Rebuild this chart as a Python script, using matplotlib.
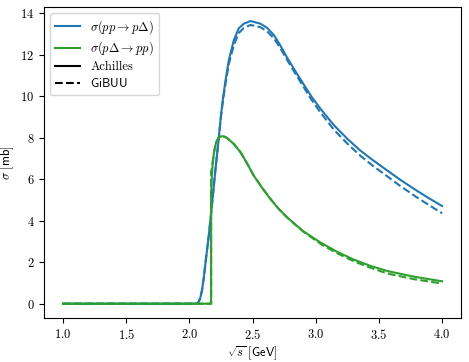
import matplotlib
matplotlib.use("Agg")
import matplotlib.pyplot as plt
from matplotlib.lines import Line2D

plt.rcParams['font.family'] = 'serif'
plt.rcParams['font.serif'] = ['cmr10']
plt.rcParams['mathtext.fontset'] = 'cm'
plt.rcParams['axes.formatter.use_mathtext'] = True
plt.rcParams['axes.unicode_minus'] = False
plt.rcParams['font.size'] = 9

# pp -> p Delta  (Achilles, solid)
s_pd = [1.0, 2.0, 2.055, 2.07, 2.085, 2.1, 2.115, 2.13, 2.153, 2.18, 2.206, 2.233, 2.25, 2.267,
        2.286, 2.312, 2.352, 2.391, 2.431, 2.484, 2.563, 2.615, 2.669, 2.72, 2.775,
        2.84, 2.907, 2.97, 3.04, 3.145, 3.25, 3.35, 3.45, 3.56, 3.675, 3.8, 3.9, 4.0]
sig_pd_ach = [0, 0, 0.0, 0.05, 0.25, 0.65, 1.3, 2.1, 3.25, 4.85, 6.45, 8.02, 9.1, 9.96,
              10.77, 11.74, 12.71, 13.28, 13.5, 13.63, 13.5, 13.3, 12.95, 12.45, 11.85,
              11.2, 10.55, 9.95, 9.38, 8.6, 7.95, 7.4, 6.93, 6.45, 5.95, 5.45, 5.07, 4.71]
# pp -> p Delta  (GiBUU, dashed)
sig_pd_gib = [0, 0, 0.0, 0.05, 0.25, 0.65, 1.3, 2.1, 3.25, 4.85, 6.45, 8.0, 9.0, 9.85,
              10.6, 11.55, 12.47, 13.05, 13.3, 13.44, 13.33, 13.13, 12.8, 12.32, 11.74,
              11.08, 10.42, 9.8, 9.2, 8.38, 7.72, 7.15, 6.66, 6.17, 5.65, 5.13, 4.74, 4.36]

# p Delta -> pp
s_dp = [1.0, 2.172, 2.172, 2.178, 2.185, 2.195, 2.21, 2.23, 2.255, 2.28, 2.30, 2.352,
        2.405, 2.458, 2.51, 2.58, 2.643, 2.71, 2.775, 2.9, 3.04, 3.17, 3.30, 3.43,
        3.57, 3.78, 4.0]
sig_dp_ach = [0, 0, 5.2, 6.2, 6.8, 7.3, 7.75, 8.0, 8.08, 8.05, 7.98, 7.7,
              7.3, 6.75, 6.17, 5.55, 5.04, 4.55, 4.15, 3.5, 2.94, 2.5, 2.13, 1.83,
              1.57, 1.3, 1.08]
sig_dp_gib = [0, 0, 6.4, 6.5, 6.85, 7.3, 7.75, 8.0, 8.08, 8.05, 7.98, 7.7,
              7.3, 6.75, 6.17, 5.55, 5.04, 4.55, 4.15, 3.48, 2.88, 2.43, 2.05, 1.74,
              1.45, 1.18, 0.97]

fig, ax = plt.subplots(figsize=(4.69, 3.62), dpi=100)
fig.subplots_adjust(left=0.094, right=0.983, bottom=0.122, top=0.981)

ax.plot(s_pd, sig_pd_ach, color='tab:blue', lw=1.5)
ax.plot(s_pd, sig_pd_gib, color='tab:blue', lw=1.5, ls='--')
ax.plot(s_dp, sig_dp_ach, color='tab:green', lw=1.5)
ax.plot(s_dp, sig_dp_gib, color='tab:green', lw=1.5, ls='--')

ax.set_xlabel(r'$\sqrt{s}\ \mathsf{[GeV]}$', labelpad=2)
ax.set_ylabel(r'$\sigma\ \mathsf{[mb]}$', labelpad=3)
ax.set_xticks([1.0, 1.5, 2.0, 2.5, 3.0, 3.5, 4.0])
ax.set_yticks([0, 2, 4, 6, 8, 10, 12, 14])

handles = [Line2D([], [], color='tab:blue', lw=1.5),
           Line2D([], [], color='tab:green', lw=1.5),
           Line2D([], [], color='black', lw=1.5),
           Line2D([], [], color='black', lw=1.5, ls='--')]
labels = [r'$\sigma(pp\to p\Delta)$', r'$\sigma(p\Delta\to pp)$',
          'Achilles', r'$\mathsf{GiBUU}$']
ax.legend(handles, labels, loc='upper left', labelspacing=0.3, handlelength=2.0)

fig.savefig('out.png', dpi=100)
